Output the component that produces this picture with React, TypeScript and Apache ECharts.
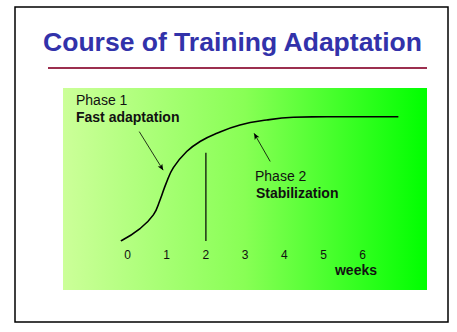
import React, { useEffect, useRef } from "react";
import * as echarts from "echarts";

const weekTicks = [0, 1, 2, 3, 4, 5, 6];
const curveX = [-0.17, 0.32, 0.66, 0.83, 0.98, 1.17, 1.51, 1.85, 2.28, 2.87, 3.55, 4.23, 5.08, 6.91];
const curveY = [0, 10, 21, 33, 46, 59, 72, 80, 86.6, 93.3, 97.3, 99.5, 100, 100];
const markerLine = [[2, 0], [2, 71]];
const arrow1 = [[0.3, 88], [0.91, 57]];
const arrow2 = [[3.64, 64], [3.23, 86.6]];
const titleText = "Course of Training Adaptation";
const phase1 = ["Phase 1", "Fast adaptation"];
const phase2 = ["Phase 2", "Stabilization"];
const unitLabel = "weeks";

export default function App() {
  const ref = useRef<HTMLDivElement>(null);
  useEffect(() => {
    document.body.style.margin = "0";
    const chart = echarts.init(ref.current!, null, { renderer: "svg" });
    const font = "Liberation Sans, Arial, sans-serif";
    chart.setOption({
      animation: false,
      backgroundColor: "#ffffff",
      grid: { left: 88.3, right: 55.1, top: 116.7, bottom: 91, containLabel: false },
      xAxis: {
        type: "value",
        min: -1,
        max: 7,
        interval: 1,
        axisLine: { show: false },
        axisTick: { show: false },
        splitLine: { show: false },
        axisLabel: {
          margin: 8,
          fontSize: 12,
          fontFamily: font,
          color: "#111",
          formatter: (v: number) => (weekTicks.includes(v) ? String(v) : ""),
        },
      },
      yAxis: {
        type: "value",
        min: 0,
        max: 100,
        show: false,
      },
      graphic: [
        {
          type: "rect",
          z: -10,
          shape: { x: 15, y: 7, width: 433, height: 315 },
          style: { fill: "#fff", stroke: "#000", lineWidth: 1.5 },
        },
        {
          type: "rect",
          z: -9,
          shape: { x: 63, y: 88, width: 364, height: 202 },
          style: {
            fill: new echarts.graphic.LinearGradient(0, 0, 1, 0, [
              { offset: 0, color: "#ccff99" },
              { offset: 0.5, color: "#88ff55" },
              { offset: 1, color: "#00ff00" },
            ]),
          },
        },
        {
          type: "text",
          x: 232.5,
          y: 42,
          style: {
            text: titleText,
            fontSize: 26.5,
            fontWeight: "bold",
            fontFamily: font,
            fill: "#3232aa",
            align: "center",
            verticalAlign: "middle",
          },
        },
        {
          type: "line",
          shape: { x1: 48, y1: 68, x2: 427, y2: 68 },
          style: { stroke: "#9c2f4f", lineWidth: 2 },
        },
        {
          type: "text",
          x: 76,
          y: 100,
          style: { text: phase1[0], fontSize: 14, fontFamily: font, fill: "#111", verticalAlign: "middle" },
        },
        {
          type: "text",
          x: 76,
          y: 116.5,
          style: { text: phase1[1], fontSize: 14, fontWeight: "bold", fontFamily: font, fill: "#111", verticalAlign: "middle" },
        },
        {
          type: "text",
          x: 255,
          y: 176,
          style: { text: phase2[0], fontSize: 14, fontFamily: font, fill: "#111", verticalAlign: "middle" },
        },
        {
          type: "text",
          x: 256,
          y: 193,
          style: { text: phase2[1], fontSize: 14, fontWeight: "bold", fontFamily: font, fill: "#111", verticalAlign: "middle" },
        },
        {
          type: "text",
          x: 356,
          y: 270,
          style: { text: unitLabel, fontSize: 14, fontWeight: "bold", fontFamily: font, fill: "#111", align: "center", verticalAlign: "middle" },
        },
      ],
      series: [
        {
          type: "line",
          data: curveX.map((x, i) => [x, curveY[i]]),
          smooth: 0.45,
          showSymbol: false,
          lineStyle: { color: "#000", width: 1.6 },
          markLine: {
            silent: true,
            symbol: ["none", "arrow"],
            symbolSize: [4, 6],
            label: { show: false },
            lineStyle: { color: "#000", width: 0.8, type: "solid" },
            data: [
              [{ coord: arrow1[0] }, { coord: arrow1[1] }],
              [{ coord: arrow2[0] }, { coord: arrow2[1] }],
            ],
          },
        },
        {
          type: "line",
          data: markerLine,
          showSymbol: false,
          lineStyle: { color: "#000", width: 1.2 },
        },
      ],
    });
    return () => chart.dispose();
  }, []);
  return <div ref={ref} style={{ width: 457, height: 332 }} />;
}
